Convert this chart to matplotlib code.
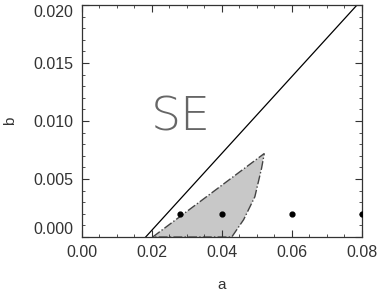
import numpy as np
import matplotlib.pyplot as plt
from matplotlib.ticker import MultipleLocator

plt.rcParams['font.family'] = ['Liberation Sans', 'DejaVu Sans']

# stability boundary line (solid)
line_a = [0.0182, 0.0786]
line_b = [0.0, 0.0200]

# shaded region outline (dash-dot)
region_a = [0.0202, 0.0521, 0.0513, 0.0494, 0.0462, 0.0428]
region_b = [0.0, 0.0072, 0.0059, 0.00347, 0.0015, 0.0]

# sample points
pts_a = [0.028, 0.040, 0.060, 0.080]
pts_b = [0.002, 0.002, 0.002, 0.002]

fig = plt.figure(figsize=(3.83, 2.93), dpi=100)
ax = fig.add_axes([0.214, 0.191, 0.731, 0.792])

ax.fill(region_a, region_b, facecolor='#c8c8c8', edgecolor='#444444',
        linestyle='-.', linewidth=1.0)
ax.plot(line_a, line_b, color='black', linewidth=0.9)
ax.scatter(pts_a, pts_b, s=12, color='black', zorder=3, clip_on=True)

ax.text(0.0282, 0.0103, 'SE', fontsize=34, color='#666666',
        fontfamily='DejaVu Sans', fontweight='light', ha='center', va='center')

ax.set_xlim(0, 0.08)
ax.set_ylim(0, 0.020)
ax.xaxis.set_major_locator(MultipleLocator(0.02))
ax.xaxis.set_minor_locator(MultipleLocator(0.005))
ax.yaxis.set_major_locator(MultipleLocator(0.005))
ax.yaxis.set_minor_locator(MultipleLocator(0.001))
ax.xaxis.set_major_formatter(plt.FormatStrFormatter('%.2f'))
ax.yaxis.set_major_formatter(plt.FormatStrFormatter('%.3f'))
ax.tick_params(which='both', direction='in', top=True, right=True,
               labelsize=11.5, colors='#333333')
ax.tick_params(which='major', length=5, pad=6)
ax.tick_params(which='minor', length=2.5)
for s in ax.spines.values():
    s.set_linewidth(0.9)
    s.set_color('#333333')

ax.set_xlabel('a', fontsize=11, color='#333333', labelpad=13)
ax.set_ylabel('b', fontsize=11, color='#333333', labelpad=12)

# end labels sit inside the axis range, as in the original
fig.canvas.draw()
for lab in ax.get_yticklabels():
    if lab.get_text() == '0.000':
        lab.set_va('bottom')
    elif lab.get_text() == '0.020':
        lab.set_va('top')

fig.savefig('out.png', dpi=100)
